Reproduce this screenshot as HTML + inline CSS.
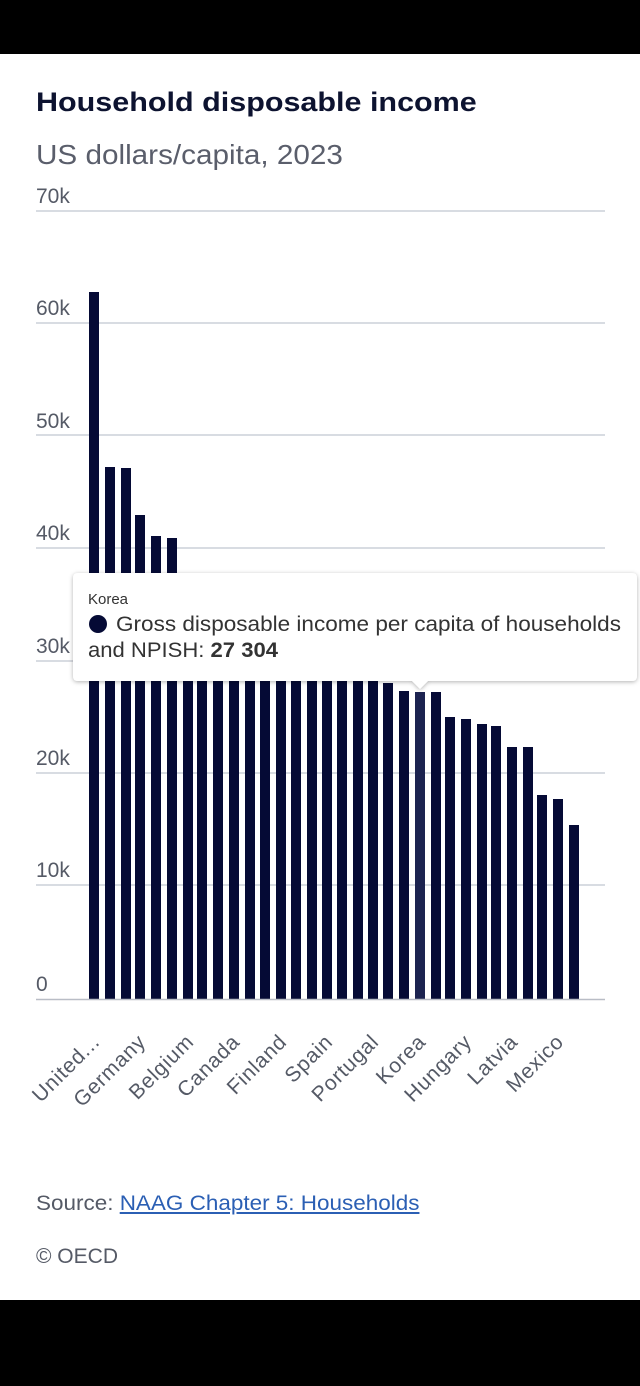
<!DOCTYPE html>
<html><head><meta charset="utf-8"><style>
body{margin:0;width:640px;height:1386px;background:#fff;position:relative;overflow:hidden;font-family:"Liberation Sans",sans-serif}
.blk{position:absolute;left:0;width:640px;background:#000}
.t{position:absolute;white-space:nowrap;transform-origin:0 0}
</style></head><body>
<div class="blk" style="top:0;height:54px"></div>
<div class="blk" style="top:1300px;height:86px"></div>
<div class="t" style="left:36px;top:87px;font-size:27px;font-weight:bold;color:#0d1330;transform:scaleX(1.13)">Household disposable income</div>
<div class="t" style="left:36px;top:139px;font-size:28px;color:#5a5e6b;transform:scaleX(1.06)">US dollars/capita, 2023</div>
<svg width="640" height="1386" style="position:absolute;left:0;top:0" font-family="Liberation Sans, sans-serif">
<g stroke="#ccd0d8" stroke-width="1.5">
<line x1="36" x2="605" y1="211" y2="211"/><line x1="36" x2="605" y1="323" y2="323"/><line x1="36" x2="605" y1="435" y2="435"/><line x1="36" x2="605" y1="548" y2="548"/><line x1="36" x2="605" y1="661" y2="661"/><line x1="36" x2="605" y1="773" y2="773"/><line x1="36" x2="605" y1="885" y2="885"/>
</g>
<g fill="#555a66" font-size="21">
<text x="36" y="203">70k</text><text x="36" y="315">60k</text><text x="36" y="428">50k</text><text x="36" y="540">40k</text><text x="36" y="653">30k</text><text x="36" y="765">20k</text><text x="36" y="877">10k</text><text x="36" y="991">0</text>
</g>
<g fill="#050a35">
<rect x="89" y="292" width="10" height="707"/><rect x="105" y="467" width="10" height="532"/><rect x="121" y="468" width="10" height="531"/><rect x="135" y="515" width="10" height="484"/><rect x="151" y="536" width="10" height="463"/><rect x="167" y="538" width="10" height="461"/>
<rect x="183" y="580" width="10" height="419"/><rect x="197" y="590" width="10" height="409"/><rect x="213" y="600" width="10" height="399"/><rect x="229" y="610" width="10" height="389"/><rect x="245" y="620" width="10" height="379"/><rect x="260" y="630" width="10" height="369"/><rect x="276" y="640" width="10" height="359"/><rect x="291" y="650" width="10" height="349"/><rect x="307" y="660" width="10" height="339"/><rect x="322" y="668" width="10" height="331"/><rect x="337" y="672" width="10" height="327"/><rect x="353" y="676" width="10" height="323"/><rect x="368" y="679" width="10" height="320"/>
<rect x="383" y="683" width="10" height="316"/><rect x="399" y="691" width="10" height="308"/><rect x="415" y="692" width="10" height="307" fill="#1c2350"/><rect x="431" y="692" width="10" height="307"/><rect x="445" y="717" width="10" height="282"/><rect x="461" y="719" width="10" height="280"/><rect x="477" y="724" width="10" height="275"/><rect x="491" y="726" width="10" height="273"/><rect x="507" y="747" width="10" height="252"/><rect x="523" y="747" width="10" height="252"/><rect x="537" y="795" width="10" height="204"/><rect x="553" y="799" width="10" height="200"/><rect x="569" y="825" width="10" height="174"/>
</g>
<line x1="36" x2="605" y1="999.5" y2="999.5" stroke="#b9bdc6" stroke-width="1.5"/>
<g fill="#555a66" font-size="21" text-anchor="end" letter-spacing="0.8">
<text transform="translate(101,1043) rotate(-45)">United...</text>
<text transform="translate(147,1043) rotate(-45)">Germany</text>
<text transform="translate(195,1043) rotate(-45)">Belgium</text>
<text transform="translate(241,1043) rotate(-45)">Canada</text>
<text transform="translate(288,1043) rotate(-45)">Finland</text>
<text transform="translate(334,1043) rotate(-45)">Spain</text>
<text transform="translate(380,1043) rotate(-45)">Portugal</text>
<text transform="translate(427,1043) rotate(-45)">Korea</text>
<text transform="translate(473,1043) rotate(-45)">Hungary</text>
<text transform="translate(519,1043) rotate(-45)">Latvia</text>
<text transform="translate(565,1043) rotate(-45)">Mexico</text>
</g>
<defs><filter id="sh" x="-5%" y="-10%" width="110%" height="130%"><feDropShadow dx="0" dy="1" stdDeviation="2" flood-color="#000" flood-opacity="0.3"/></filter></defs>
<path d="M78 573 H632 Q637 573 637 578 V676 Q637 681 632 681 H428 L420 689 L412 681 H78 Q73 681 73 676 V578 Q73 573 78 573 Z" fill="#fff" filter="url(#sh)"/>
<text x="88" y="604" font-size="15" fill="#333">Korea</text>
<circle cx="98" cy="624" r="9" fill="#050a35"/>
<text x="116" y="631" font-size="21" fill="#333" textLength="505" lengthAdjust="spacingAndGlyphs">Gross disposable income per capita of households</text>
<text x="88" y="657" font-size="21" fill="#333" textLength="190" lengthAdjust="spacingAndGlyphs">and NPISH: <tspan font-weight="bold">27 304</tspan></text>
</svg>
<div class="t" style="left:36px;top:1192px;font-size:21px;color:#555a66;transform:scaleX(1.07)">Source: <span style="color:#2b5fb4;text-decoration:underline">NAAG Chapter 5: Households</span></div>
<div class="t" style="left:36px;top:1245px;font-size:21px;color:#555a66">© OECD</div>
</body></html>
